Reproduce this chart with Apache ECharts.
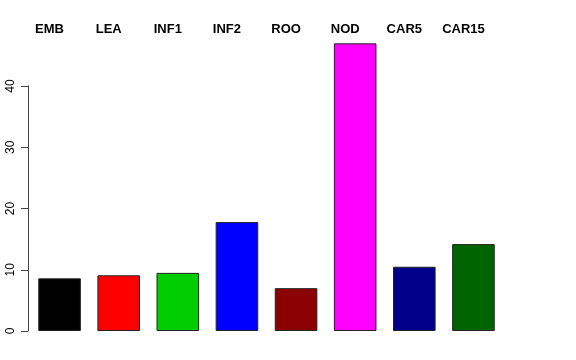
<!DOCTYPE html>
<html><head><meta charset="utf-8">
<script src="https://cdn.jsdelivr.net/npm/echarts@6/dist/echarts.min.js"></script>
<style>html,body{margin:0;padding:0;background:#fff}#c{width:576px;height:360px}</style>
</head><body><div id="c"></div>
<script>
var categories = ['EMB','LEA','INF1','INF2','ROO','NOD','CAR5','CAR15'];
var values = [8.6, 9.1, 9.5, 17.8, 7.0, 47.0, 10.5, 14.2];
var colors = ['#000000','#FF0000','#00CD00','#0000FF','#8B0000','#FF00FF','#00008B','#006400'];
var yTicks = [0, 10, 20, 30, 40];

var chart = echarts.init(document.getElementById('c'), null, {renderer:'canvas'});
chart.setOption({
  animation:false,
  backgroundColor:'#fff',
  grid:[
    {left:30, right:73, top:25, bottom:29},
    {left:30, right:73, top:86, bottom:29}
  ],
  xAxis:[
    {gridIndex:0, type:'category', data:categories, position:'top',
     axisLine:{show:false}, axisTick:{show:false},
     axisLabel:{fontFamily:'Liberation Sans', fontWeight:'bold', fontSize:13, color:'#000', margin:-11, padding:[0,20,0,0]}},
    {gridIndex:1, type:'category', data:categories, show:false}
  ],
  yAxis:[
    {gridIndex:0, type:'value', min:0, max:50, show:false},
    {gridIndex:1, type:'value', min:yTicks[0], max:yTicks[yTicks.length-1], interval:10, offset:2,
     splitLine:{show:false},
     axisLine:{show:true, lineStyle:{color:'#444', width:1}},
     axisTick:{show:true, length:7, lineStyle:{color:'#444'}},
     axisLabel:{rotate:90, fontFamily:'Liberation Sans', fontSize:12, color:'#000', margin:11}}
  ],
  series:[{
    type:'bar', xAxisIndex:0, yAxisIndex:0,
    barCategoryGap:'28%',
    data: values.map(function(v,i){return {value:v, itemStyle:{color:colors[i]}};}),
    itemStyle:{borderColor:'#222', borderWidth:1}
  }]
});
</script></body></html>
